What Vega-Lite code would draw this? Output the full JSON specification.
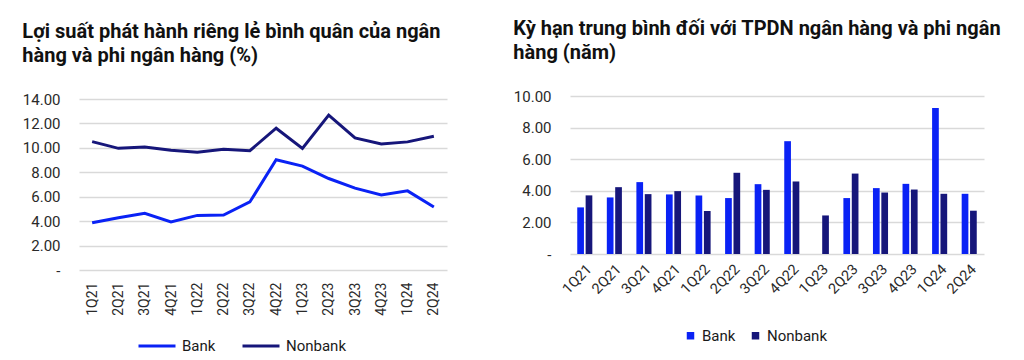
{
  "$schema": "https://vega.github.io/schema/vega-lite/v6.json",
  "background": "white",
  "padding": {"left": 22, "top": 19, "right": 0, "bottom": 0},
  "datasets": {
    "yield": [
      {"quarter": "1Q21", "series": "Bank", "value": 3.87},
      {"quarter": "2Q21", "series": "Bank", "value": 4.28},
      {"quarter": "3Q21", "series": "Bank", "value": 4.64},
      {"quarter": "4Q21", "series": "Bank", "value": 3.93},
      {"quarter": "1Q22", "series": "Bank", "value": 4.47},
      {"quarter": "2Q22", "series": "Bank", "value": 4.5},
      {"quarter": "3Q22", "series": "Bank", "value": 5.57},
      {"quarter": "4Q22", "series": "Bank", "value": 9.03},
      {"quarter": "1Q23", "series": "Bank", "value": 8.51},
      {"quarter": "2Q23", "series": "Bank", "value": 7.49},
      {"quarter": "3Q23", "series": "Bank", "value": 6.7},
      {"quarter": "4Q23", "series": "Bank", "value": 6.15},
      {"quarter": "1Q24", "series": "Bank", "value": 6.48},
      {"quarter": "2Q24", "series": "Bank", "value": 5.16},
      {"quarter": "1Q21", "series": "Nonbank", "value": 10.51},
      {"quarter": "2Q21", "series": "Nonbank", "value": 9.96},
      {"quarter": "3Q21", "series": "Nonbank", "value": 10.07},
      {"quarter": "4Q21", "series": "Nonbank", "value": 9.8},
      {"quarter": "1Q22", "series": "Nonbank", "value": 9.64},
      {"quarter": "2Q22", "series": "Nonbank", "value": 9.88},
      {"quarter": "3Q22", "series": "Nonbank", "value": 9.77},
      {"quarter": "4Q22", "series": "Nonbank", "value": 11.61},
      {"quarter": "1Q23", "series": "Nonbank", "value": 9.96},
      {"quarter": "2Q23", "series": "Nonbank", "value": 12.68},
      {"quarter": "3Q23", "series": "Nonbank", "value": 10.82},
      {"quarter": "4Q23", "series": "Nonbank", "value": 10.32},
      {"quarter": "1Q24", "series": "Nonbank", "value": 10.49},
      {"quarter": "2Q24", "series": "Nonbank", "value": 10.95}
    ],
    "tenor": [
      {"quarter": "1Q21", "series": "Bank", "value": 2.95},
      {"quarter": "2Q21", "series": "Bank", "value": 3.58},
      {"quarter": "3Q21", "series": "Bank", "value": 4.55},
      {"quarter": "4Q21", "series": "Bank", "value": 3.77},
      {"quarter": "1Q22", "series": "Bank", "value": 3.71},
      {"quarter": "2Q22", "series": "Bank", "value": 3.54},
      {"quarter": "3Q22", "series": "Bank", "value": 4.42},
      {"quarter": "4Q22", "series": "Bank", "value": 7.14},
      {"quarter": "1Q23", "series": "Bank", "value": null},
      {"quarter": "2Q23", "series": "Bank", "value": 3.54},
      {"quarter": "3Q23", "series": "Bank", "value": 4.17},
      {"quarter": "4Q23", "series": "Bank", "value": 4.44},
      {"quarter": "1Q24", "series": "Bank", "value": 9.24},
      {"quarter": "2Q24", "series": "Bank", "value": 3.81},
      {"quarter": "1Q21", "series": "Nonbank", "value": 3.71},
      {"quarter": "2Q21", "series": "Nonbank", "value": 4.23},
      {"quarter": "3Q21", "series": "Nonbank", "value": 3.79},
      {"quarter": "4Q21", "series": "Nonbank", "value": 3.98},
      {"quarter": "1Q22", "series": "Nonbank", "value": 2.72},
      {"quarter": "2Q22", "series": "Nonbank", "value": 5.14},
      {"quarter": "3Q22", "series": "Nonbank", "value": 4.06},
      {"quarter": "4Q22", "series": "Nonbank", "value": 4.59},
      {"quarter": "1Q23", "series": "Nonbank", "value": 2.44},
      {"quarter": "2Q23", "series": "Nonbank", "value": 5.09},
      {"quarter": "3Q23", "series": "Nonbank", "value": 3.89},
      {"quarter": "4Q23", "series": "Nonbank", "value": 4.08},
      {"quarter": "1Q24", "series": "Nonbank", "value": 3.81},
      {"quarter": "2Q24", "series": "Nonbank", "value": 2.74}
    ]
  },
  "spacing": 66,
  "resolve": {"scale": {"color": "independent", "x": "independent", "y": "independent"}, "legend": {"color": "independent"}},
  "hconcat": [
    {
      "data": {"name": "yield"},
      "width": 368,
      "height": 174,
      "title": {"text": ["Lợi suất phát hành riêng lẻ bình quân của ngân", "hàng và phi ngân hàng (%)"], "offset": 26},
      "mark": {"type": "line", "strokeWidth": 3},
      "encoding": {
        "x": {
          "field": "quarter", "type": "ordinal",
          "sort": ["1Q21", "2Q21", "3Q21", "4Q21", "1Q22", "2Q22", "3Q22", "4Q22", "1Q23", "2Q23", "3Q23", "4Q23", "1Q24", "2Q24"],
          "scale": {"type": "point", "padding": 0.5},
          "axis": {"title": null, "labelAngle": -90, "labelPadding": 12, "grid": false, "labelFontSize": 14}
        },
        "y": {
          "field": "value", "type": "quantitative",
          "scale": {"domain": [0, 14.246], "nice": false},
          "axis": {"title": null, "values": [0, 2, 4, 6, 8, 10, 12, 14], "labelExpr": "datum.value == 0 ? '-\u00a0\u00a0\u00a0' : format(datum.value, '.2f')"}
        },
        "color": {
          "field": "series", "type": "nominal",
          "scale": {"domain": ["Bank", "Nonbank"], "range": ["#0A22F5", "#16167A"]},
          "legend": {"title": null, "orient": "none", "direction": "horizontal", "legendX": 58, "legendY": 230, "symbolType": "stroke", "symbolSize": 1369, "symbolStrokeWidth": 3, "columnPadding": 20, "labelOffset": 5}
        }
      }
    },
    {
      "data": {"name": "tenor"},
      "width": 414,
      "height": 158,
      "title": {"text": ["Kỳ hạn trung bình đối với TPDN ngân hàng và phi ngân", "hàng (năm)"], "offset": 26},
      "mark": {"type": "bar"},
      "encoding": {
        "x": {
          "field": "quarter", "type": "ordinal",
          "sort": ["1Q21", "2Q21", "3Q21", "4Q21", "1Q22", "2Q22", "3Q22", "4Q22", "1Q23", "2Q23", "3Q23", "4Q23", "1Q24", "2Q24"],
          "scale": {"paddingInner": 0.49, "paddingOuter": 0.245},
          "axis": {"title": null, "labelAngle": -45, "labelPadding": 8, "grid": false, "labelFontSize": 14.5}
        },
        "xOffset": {"field": "series", "type": "nominal", "scale": {"domain": ["Bank", "Nonbank"], "paddingInner": 0.2, "paddingOuter": 0}},
        "y": {
          "field": "value", "type": "quantitative",
          "scale": {"domain": [0, 10], "nice": false},
          "axis": {"title": null, "values": [0, 2, 4, 6, 8, 10], "labelExpr": "datum.value == 0 ? '-\u00a0\u00a0\u00a0' : format(datum.value, '.2f')"}
        },
        "color": {
          "field": "series", "type": "nominal",
          "scale": {"domain": ["Bank", "Nonbank"], "range": ["#0A22F5", "#16167A"]},
          "legend": {"title": null, "orient": "none", "direction": "horizontal", "legendX": 113, "legendY": 232, "symbolType": "square", "symbolSize": 56, "columnPadding": 12, "labelOffset": 4}
        }
      }
    }
  ],
  "config": {
    "font": "Roboto",
    "view": {"stroke": null},
    "title": {"anchor": "start", "fontSize": 20, "fontWeight": "bold", "color": "#111111", "lineHeight": 24, "font": "Roboto"},
    "axis": {"domain": false, "ticks": false, "tickSize": 0, "labelFont": "Roboto", "labelFontSize": 15, "labelColor": "#2a2a2a", "gridColor": "#d9d9d9", "gridWidth": 1.5},
    "axisY": {"labelPadding": 19, "grid": true},
    "legend": {"labelFont": "Roboto", "labelFontSize": 15, "labelColor": "#1a1a1a", "padding": 0}
  }
}
